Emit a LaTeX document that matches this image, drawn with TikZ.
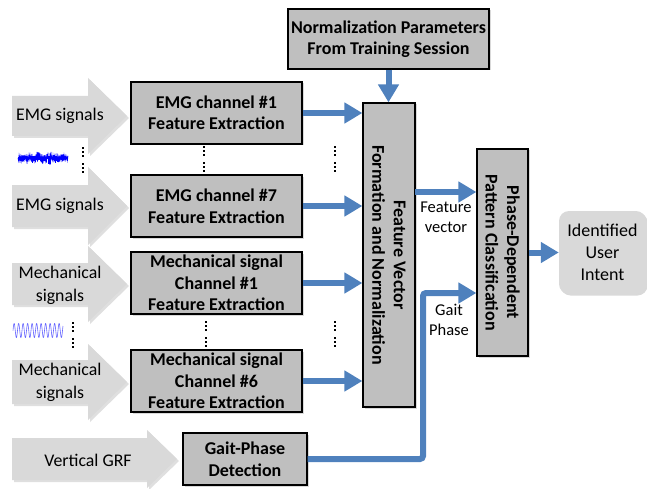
\documentclass[tikz,border=0pt]{standalone}
\usepackage{fontspec}
\setmainfont{Carlito}
\usetikzlibrary{arrows.meta,shadows}
\definecolor{boxgray}{HTML}{BFBFBF}
\definecolor{arrgray}{HTML}{D9D9D9}
\definecolor{flowblue}{HTML}{4F81BD}
\begin{document}
\begin{tikzpicture}[x=1pt,y=-1pt,
  procbox/.style={draw=black, fill=boxgray, line width=1.2pt, align=center, inner sep=0pt,
    font=\bfseries\fontsize{18}{21.5}\selectfont,
    drop shadow={shadow xshift=1.5pt, shadow yshift=-1.5pt, opacity=0.3}},
  rottext/.style={rotate=-90, align=center, inner sep=0pt, font=\bfseries\fontsize{18}{21.5}\selectfont},
  bigarrow/.style={fill=arrgray, draw=none,
    drop shadow={shadow xshift=2pt, shadow yshift=-2pt, opacity=0.25}},
  arrtext/.style={align=center, font=\fontsize{17.8}{23}\selectfont, inner sep=0pt},
  flow/.style={draw=flowblue, line width=6pt, -{Triangle[length=18pt,width=20pt]}},
  flowlabel/.style={align=center, font=\fontsize{16.5}{20}\selectfont, inner sep=0pt},
  dotmark/.style={fill=black}
]
\useasboundingbox (0,0) rectangle (647,489);

% big input arrows
\newcommand{\bigarr}[6]{% x0, xh, xtip, mid, bodyhalf, headhalf
  \fill[bigarrow] (#1,#4-#5) -- (#2,#4-#5) -- (#2,#4-#6) -- (#3,#4) -- (#2,#4+#6) -- (#2,#4+#5) -- (#1,#4+#5) -- cycle;}
\bigarr{12}{88}{127}{116}{20}{38}
\bigarr{12}{88}{127}{206}{21}{39}
\bigarr{12}{88}{127}{284}{21}{38}
\bigarr{12}{88}{127}{382}{22}{38}
\bigarr{12}{147}{177}{459}{21}{29}

\node[arrtext] (in1) at (60,116) {EMG signals};
\node[arrtext] (in2) at (60,206) {EMG signals};
\node[arrtext] (in3) at (60,285) {Mechanical\\signals};
\node[arrtext] (in4) at (60,382) {Mechanical\\signals};
\node[arrtext] (in5) at (88,460) {Vertical GRF};

% processing boxes
\node[procbox, minimum width=171pt, minimum height=62pt] (emg1) at (216.5,113) {EMG channel \#1\\Feature Extraction};
\node[procbox, minimum width=171pt, minimum height=62pt] (emg7) at (216.5,206) {EMG channel \#7\\Feature Extraction};
\node[procbox, minimum width=171pt, minimum height=62pt] (mech1) at (216.5,283) {Mechanical signal\\Channel \#1\\Feature Extraction};
\node[procbox, minimum width=171pt, minimum height=62pt] (mech6) at (216.5,381) {Mechanical signal\\Channel \#6\\Feature Extraction};
\node[procbox, minimum width=124pt, minimum height=52pt] (gait) at (245,459) {Gait-Phase\\Detection};
\node[procbox, minimum width=201pt, minimum height=60pt] (norm) at (388.5,39) {Normalization Parameters\\From Training Session};
\node[procbox, minimum width=52pt, minimum height=304pt] (fv) at (389,255) {};
\node[rottext] (fvtext) at (fv) {Feature Vector\\Formation and Normalization};
\node[procbox, minimum width=51pt, minimum height=207pt] (phase) at (502.5,252.5) {};
\node[rottext] (phasetext) at (phase) {Phase-Dependent\\Pattern Classification};
\node[fill=arrgray, draw=none, rounded corners=10pt, minimum width=87pt, minimum height=83pt, align=center, inner sep=0pt,
  font=\fontsize{18}{22}\selectfont, drop shadow={shadow xshift=1.5pt, shadow yshift=-1.5pt, opacity=0.3}] (intent) at (602.5,252.5) {Identified\\User\\Intent};

% connectors
\draw[flow] (emg1.east) -- (emg1.east -| fv.west);
\draw[flow] (emg7.east) -- (emg7.east -| fv.west);
\draw[flow] (mech1.east) -- (mech1.east -| fv.west);
\draw[flow] (mech6.east) -- (mech6.east -| fv.west);
\draw[flow] (norm.south) -- (norm.south |- fv.north);
\coordinate (fvout) at (415,192);
\draw[flow] (fvout) -- (fvout -| phase.west);
\coordinate (gpturn) at (423,293);
\draw[flow, rounded corners=3pt] (gait.east) -| (gpturn) -- (gpturn -| phase.west);
\draw[flow] (phase.east) -- (intent.west);

\node[flowlabel] (fvlabel) at (446,217) {Feature\\vector};
\node[flowlabel] (gplabel) at (449,320) {Gait\\Phase};

% vertical dot groups
\newcommand{\dotgrp}[2]{%
  \foreach \dy in {0,4,8,16,20,24}{\fill[dotmark] (#1-1,#2+\dy-1) rectangle (#1+1,#2+\dy+1);}}
\dotgrp{83}{148}
\dotgrp{204}{147}
\dotgrp{335}{147}
\dotgrp{73}{323}
\dotgrp{206}{322}
\dotgrp{335}{322}

% EMG waveform
\pgfmathsetseed{11}
\draw[blue, line width=0.6pt] (18,158) \foreach \i in {1,...,100}{ -- ({18+\i*0.5},{158+(2*mod(\i,2)-1)*(0.8+rnd*(2+4*sin(\i*1.8)))}) };
\draw[blue, line width=1.2pt] (18,158) -- (68,158);

% mechanical waveform
\draw[blue!60!white, line width=0.6pt] plot[domain=0:50, samples=300] ({13+\x}, {330.5 - 7*sin(\x*80)});
\end{tikzpicture}
\end{document}
